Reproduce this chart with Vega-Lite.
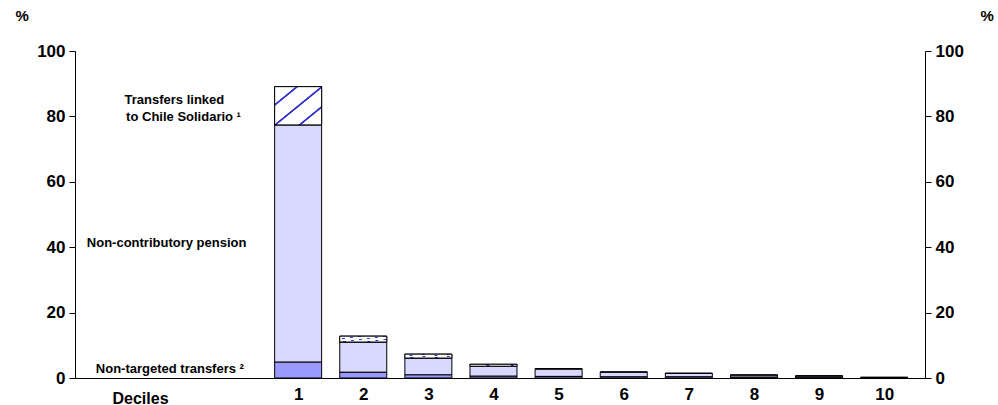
{
  "$schema": "https://vega.github.io/schema/vega-lite/v6.json",
  "width": 850,
  "height": 327,
  "autosize": "none",
  "padding": {"left": 75, "top": 51, "right": 73, "bottom": 27},
  "background": "white",
  "config": {
    "view": {"stroke": null},
    "font": "Liberation Sans",
    "axis": {"grid": false, "domainColor": "black", "tickColor": "black", "labelColor": "black",
      "labelFont": "Liberation Sans", "labelFontSize": 17, "labelFontWeight": "bold",
      "titleFont": "Liberation Sans", "titleFontSize": 15, "titleFontWeight": "bold", "titleColor": "black"}
  },
  "datasets": {
    "bars": [
      {"decile": 1, "part": "Non-targeted", "order": 1, "value": 4.9},
      {"decile": 1, "part": "Pension", "order": 2, "value": 72.5},
      {"decile": 1, "part": "Chile Solidario", "order": 3, "value": 11.7},
      {"decile": 2, "part": "Non-targeted", "order": 1, "value": 1.8},
      {"decile": 2, "part": "Pension", "order": 2, "value": 9.2},
      {"decile": 2, "part": "Chile Solidario", "order": 3, "value": 1.8},
      {"decile": 3, "part": "Non-targeted", "order": 1, "value": 1.0},
      {"decile": 3, "part": "Pension", "order": 2, "value": 5.1},
      {"decile": 3, "part": "Chile Solidario", "order": 3, "value": 1.2},
      {"decile": 4, "part": "Non-targeted", "order": 1, "value": 0.6},
      {"decile": 4, "part": "Pension", "order": 2, "value": 3.0},
      {"decile": 4, "part": "Chile Solidario", "order": 3, "value": 0.6},
      {"decile": 5, "part": "Non-targeted", "order": 1, "value": 0.5},
      {"decile": 5, "part": "Pension", "order": 2, "value": 2.2},
      {"decile": 5, "part": "Chile Solidario", "order": 3, "value": 0.2},
      {"decile": 6, "part": "Non-targeted", "order": 1, "value": 0.4},
      {"decile": 6, "part": "Pension", "order": 2, "value": 1.4},
      {"decile": 6, "part": "Chile Solidario", "order": 3, "value": 0.1},
      {"decile": 7, "part": "Non-targeted", "order": 1, "value": 0.4},
      {"decile": 7, "part": "Pension", "order": 2, "value": 1.0},
      {"decile": 7, "part": "Chile Solidario", "order": 3, "value": 0.1},
      {"decile": 8, "part": "Non-targeted", "order": 1, "value": 0.3},
      {"decile": 8, "part": "Pension", "order": 2, "value": 0.6},
      {"decile": 8, "part": "Chile Solidario", "order": 3, "value": 0.05},
      {"decile": 9, "part": "Non-targeted", "order": 1, "value": 0.3},
      {"decile": 9, "part": "Pension", "order": 2, "value": 0.35},
      {"decile": 9, "part": "Chile Solidario", "order": 3, "value": 0.0},
      {"decile": 10, "part": "Non-targeted", "order": 1, "value": 0.1},
      {"decile": 10, "part": "Pension", "order": 2, "value": 0.1},
      {"decile": 10, "part": "Chile Solidario", "order": 3, "value": 0.0}
    ],
    "notes": [
      {"x": -0.9, "y": 85, "label": "Transfers linked"},
      {"x": -0.76, "y": 79.8, "label": "to Chile Solidario ¹"},
      {"x": -1.02, "y": 41.3, "label": "Non-contributory pension"},
      {"x": -0.97, "y": 2.8, "label": "Non-targeted transfers ²"}
    ]
  },
  "layer": [
    {
      "data": {"name": "bars"},
      "transform": [{"stack": "value", "groupby": ["decile"], "sort": [{"field": "order"}], "as": ["y0", "y1"]}],
      "mark": {"type": "bar", "width": 47, "stroke": "black", "strokeWidth": 1},
      "encoding": {
        "x": {"field": "decile", "type": "quantitative", "scale": {"domain": [-2.35, 10.55], "nice": false, "zero": false},
          "axis": {"values": [1, 2, 3, 4, 5, 6, 7, 8, 9, 10], "format": "d", "tickSize": 0, "labelPadding": 8, "title": "Deciles",
            "titleX": 65, "titleY": 20, "titleAlign": "center", "titleBaseline": "middle", "titleFontSize": 16}},
        "y": {"field": "y0", "type": "quantitative", "scale": {"domain": [0, 100], "nice": false},
          "axis": {"values": [0, 20, 40, 60, 80, 100], "tickSize": 6, "labelPadding": 4, "title": "%",
            "titleAngle": 0, "titleX": -60, "titleY": -28, "titleAlign": "left", "titleFontSize": 15}},
        "y2": {"field": "y1"},
        "color": {"field": "part", "type": "nominal", "legend": null,
          "scale": {"domain": ["Non-targeted", "Pension", "Chile Solidario"], "range": ["#9999ff", "#d9d9ff", "white"]}}
      }
    },
    {
      "data": {"name": "bars"},
      "transform": [
        {"stack": "value", "groupby": ["decile"], "sort": [{"field": "order"}], "as": ["y0", "y1"]},
        {"filter": "datum.part === 'Chile Solidario' && datum.value > 0.3"}
      ],
      "mark": {"type": "bar", "width": 47, "stroke": "black", "strokeWidth": 1,
        "fill": {"gradient": "linear", "x1": 0, "y1": 0, "x2": 1, "y2": 1, "stops": [
          {"offset": 0, "color": "white"}, {"offset": 0.22, "color": "white"}, {"offset": 0.23, "color": "#3333cc"}, {"offset": 0.25, "color": "#3333cc"}, {"offset": 0.26, "color": "white"},
          {"offset": 0.485, "color": "white"}, {"offset": 0.495, "color": "#3333cc"}, {"offset": 0.515, "color": "#3333cc"}, {"offset": 0.525, "color": "white"},
          {"offset": 0.745, "color": "white"}, {"offset": 0.755, "color": "#3333cc"}, {"offset": 0.775, "color": "#3333cc"}, {"offset": 0.785, "color": "white"},
          {"offset": 1, "color": "white"}]}},
      "encoding": {
        "x": {"field": "decile", "type": "quantitative"},
        "y": {"field": "y0", "type": "quantitative", "axis": null},
        "y2": {"field": "y1"}
      }
    },
    {
      "data": {"name": "notes"},
      "mark": {"type": "text", "fontSize": 13, "fontWeight": "bold", "color": "black", "align": "center", "baseline": "middle"},
      "encoding": {
        "x": {"field": "x", "type": "quantitative"},
        "y": {"field": "y", "type": "quantitative", "axis": null},
        "text": {"field": "label"}
      }
    },
    {
      "data": {"values": [{"v": 0}]},
      "mark": {"type": "rule", "opacity": 0},
      "encoding": {
        "y": {"field": "v", "type": "quantitative",
          "axis": {"orient": "right", "values": [0, 20, 40, 60, 80, 100], "tickSize": 6, "labelPadding": 4, "title": "%",
            "titleAngle": 0, "titleX": 55, "titleY": -28, "titleAlign": "left", "titleFontSize": 15}}
      }
    }
  ],
  "resolve": {"scale": {"y": "shared"}, "axis": {"y": "independent"}}
}
